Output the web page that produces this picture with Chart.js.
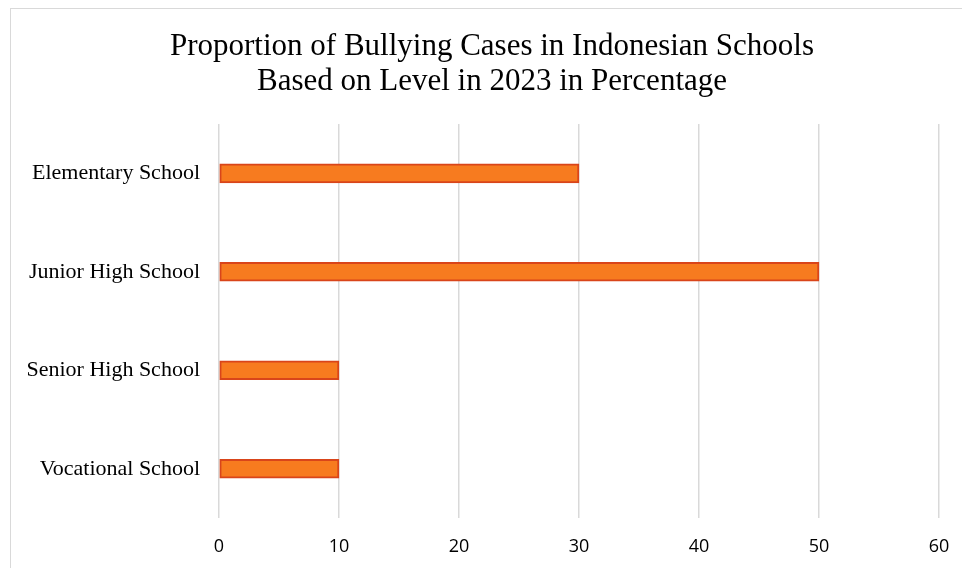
<!DOCTYPE html>
<html>
<head>
<meta charset="utf-8">
<script src="https://cdn.jsdelivr.net/npm/chart.js@4.4.1/dist/chart.umd.min.js"></script>
<style>
  html, body { margin: 0; padding: 0; background: #ffffff; overflow: hidden; width: 962px; height: 568px; }
  #frame { position: absolute; left: 10px; top: 8px; width: 962px; height: 570px; border: 1px solid #d9d9d9; background: #fff; }
  canvas { display: block; }
</style>
</head>
<body>
<div id="frame"><canvas id="c" width="962" height="570"></canvas></div>
<script>
const titleLines = ["Proportion of Bullying Cases in Indonesian Schools", "Based on Level in 2023 in Percentage"];
const categories = ["Elementary School", "Junior High School", "Senior High School", "Vocational School"];
const percentages = [30, 50, 10, 10];
const xTicks = [0, 10, 20, 30, 40, 50, 60];

const ctx = document.getElementById('c').getContext('2d');
new Chart(ctx, {
  type: 'bar',
  data: {
    labels: categories,
    datasets: [{
      label: 'Percentage',
      data: percentages,
      backgroundColor: '#F77B1F',
      borderColor: '#D9451A',
      borderWidth: 2,
      borderSkipped: false,
      barThickness: 19
    }]
  },
  options: {
    indexAxis: 'y',
    responsive: false,
    animation: false,
    devicePixelRatio: 1,
    layout: { padding: { left: 0, right: 0, top: 10, bottom: 0 } },
    plugins: {
      legend: { display: false },
      tooltip: { enabled: false },
      title: {
        display: true,
        text: titleLines,
        color: '#000000',
        font: { family: '"Liberation Serif", "Times New Roman", serif', size: 31, weight: 'normal', lineHeight: 1.13 },
        padding: { top: 10, bottom: 25 }
      }
    },
    scales: {
      x: {
        min: 0, max: 60,
        afterBuildTicks: (s) => { s.ticks = xTicks.map(v => ({ value: v })); },
        grid: { color: '#d9d9d9', lineWidth: 1.5, drawTicks: false },
        border: { display: false },
        ticks: {
          color: '#000000',
          padding: 18,
          font: { family: '"Open Sans", "Liberation Sans", sans-serif', size: 18 }
        },
        afterFit: (s) => { s.height = 61; s.paddingRight = 34; }
      },
      y: {
        grid: { display: false, drawTicks: false },
        border: { display: false },
        ticks: {
          color: '#000000',
          padding: 19,
          font: { family: '"Liberation Serif", "Times New Roman", serif', size: 22 }
        },
        afterFit: (s) => { s.width = 208; }
      }
    }
  }
});
</script>
</body>
</html>
